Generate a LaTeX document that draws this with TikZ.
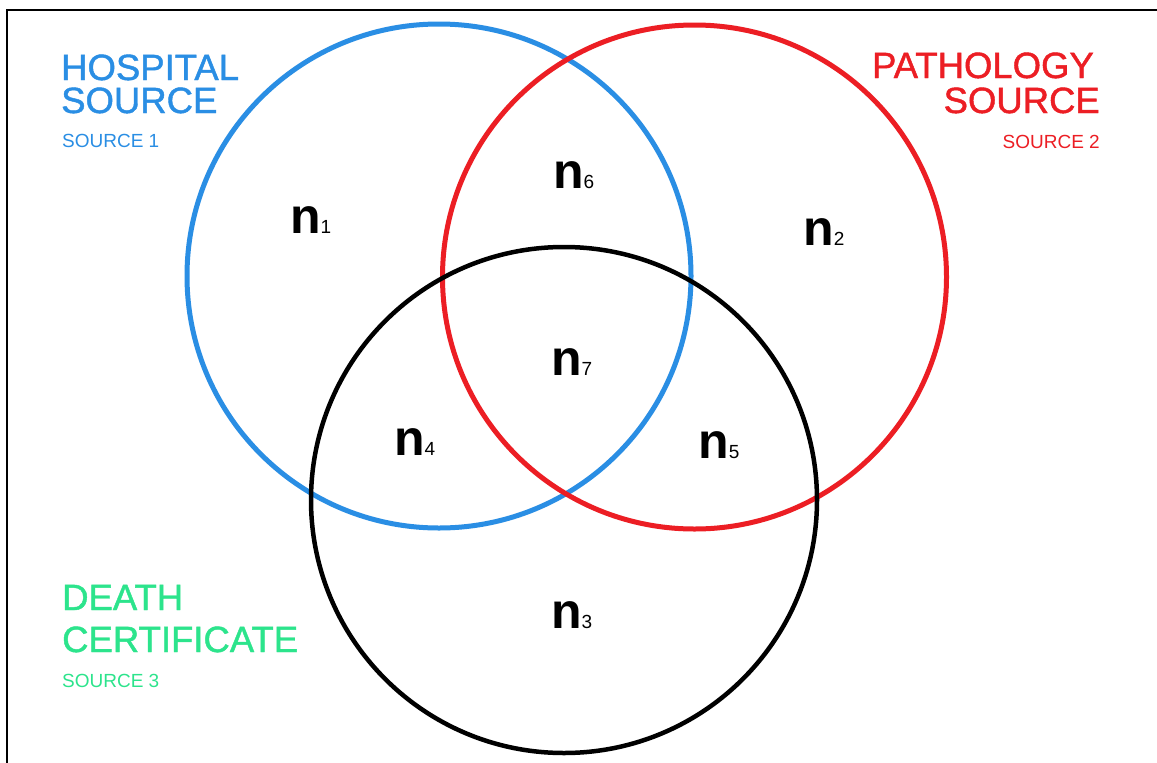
\documentclass[tikz,border=0pt]{standalone}
\usepackage{fontspec}
\setmainfont{Liberation Sans}
\newfontfamily\heavyfont[FakeBold=1.2]{Liberation Sans}
\definecolor{hblue}{RGB}{42,142,228}
\definecolor{pred}{RGB}{236,30,36}
\definecolor{dgreen}{RGB}{44,228,140}
\begin{document}
\begin{tikzpicture}[x=1pt,y=-1pt,
  ring/.style={line width=5pt},
  title/.style={font=\heavyfont\fontsize{36.5}{33}\selectfont, inner sep=0pt},
  subt/.style={font=\fontsize{19}{20}\selectfont, inner sep=0pt},
  nlab/.style={inner sep=0pt, anchor=base west}]
\useasboundingbox (0,0) rectangle (1157,763);
\fill[white] (0,0) rectangle (1157,763);
\draw[line width=2pt] (7,763) -- (7,10) -- (1157,10);
% circles
\draw[ring, hblue] (439,276) circle (252);
\draw[ring, pred] (694.5,277) circle (252);
\draw[line width=4.5pt, black] (564,500) circle (253);
% source labels
\node[title, text=hblue, anchor=base west] (hos) at (61,80) {HOSPITAL};
\node[title, text=hblue, anchor=base west] (hos2) at (61,113) {SOURCE};
\node[subt, text=hblue, anchor=base west] (s1) at (62,147) {SOURCE 1};
\node[title, text=pred, anchor=base east] (pat) at (1094,78) {PATHOLOGY};
\node[title, text=pred, anchor=base east] (pat2) at (1100,113) {SOURCE};
\node[subt, text=pred, anchor=base east] (s2) at (1100,148) {SOURCE 2};
\node[title, text=dgreen, anchor=base west] (dea) at (62,610) {DEATH};
\node[title, text=dgreen, anchor=base west] (dea2) at (62,652) {CERTIFICATE};
\node[subt, text=dgreen, anchor=base west] (s3) at (62,687) {SOURCE 3};
% region labels
\newcommand{\nl}[1]{{\fontsize{50}{50}\selectfont\bfseries n}{\fontsize{19}{19}\selectfont #1}}
\node[nlab] (n1) at (290,233) {\nl{1}};
\node[nlab] (n2) at (803,245) {\nl{2}};
\node[nlab] (n3) at (551,628) {\nl{3}};
\node[nlab] (n4) at (394,455) {\nl{4}};
\node[nlab] (n5) at (698,458) {\nl{5}};
\node[nlab] (n6) at (553,188) {\nl{6}};
\node[nlab] (n7) at (551,375) {\nl{7}};
\end{tikzpicture}
\end{document}
